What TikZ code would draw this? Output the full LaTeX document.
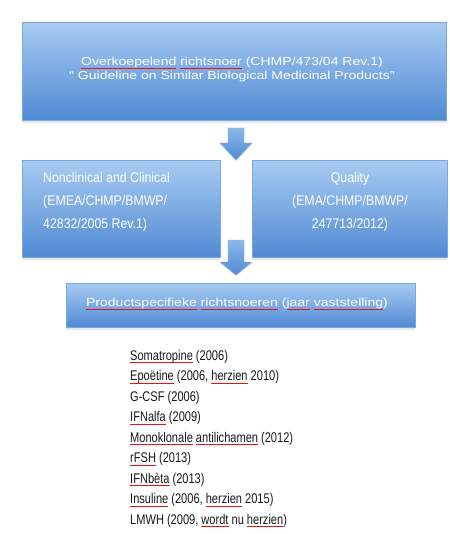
\documentclass[tikz,border=0pt]{standalone}
\usepackage{fontspec}
\setmainfont{Liberation Sans}
\newfontfamily\topfont[FakeStretch=1.22]{Liberation Sans}
\newfontfamily\midfont[FakeStretch=0.88]{Liberation Sans}
\newfontfamily\listfont[FakeStretch=0.79]{Liberation Sans}
\usetikzlibrary{shadows}
\definecolor{boxtop}{RGB}{168,203,242}
\definecolor{boxbot}{RGB}{80,138,212}
\definecolor{boxedge}{RGB}{120,168,224}
\definecolor{listtext}{RGB}{25,25,25}
\definecolor{spellred}{RGB}{230,20,20}
\newsavebox\spellbox
\newcommand\spell[1]{\leavevmode\sbox\spellbox{#1}\usebox\spellbox\llap{\textcolor{spellred}{\rule[-3pt]{\wd\spellbox}{1pt}}}}
\tikzset{
  bluebox/.style={draw=boxedge, line width=0.4pt, top color=boxtop, bottom color=boxbot,
    inner sep=0pt, anchor=north west,
    drop shadow={opacity=0.18, shadow xshift=0pt, shadow yshift=-2.5pt}},
  boxtext/.style={text=white, inner sep=0pt},
  arrowshape/.style={draw=boxedge, line width=0.3pt, top color=boxtop!70!boxbot, bottom color=boxbot,
    drop shadow={opacity=0.15, shadow xshift=0pt, shadow yshift=-1.5pt}},
}
\begin{document}
\begin{tikzpicture}[x=1pt,y=-1pt]
\useasboundingbox[fill=white] (0,0) rectangle (449,534);
% boxes
\node[bluebox, minimum width=424, minimum height=98] (top) at (22,22) {};
\node[bluebox, minimum width=198, minimum height=97] (left) at (22,160) {};
\node[bluebox, minimum width=195, minimum height=97] (right) at (252,160) {};
\node[bluebox, minimum width=349, minimum height=44] (bottom) at (66,283) {};
% arrows
\coordinate (a1) at (236,128);
\coordinate (a2) at (236,240);
\shade[arrowshape] ([xshift=-8]a1) -- ([xshift=8]a1) -- ([xshift=8,yshift=-15]a1) -- ([xshift=16,yshift=-15]a1)
  -- ([yshift=-32]a1) -- ([xshift=-16,yshift=-15]a1) -- ([xshift=-8,yshift=-15]a1) -- cycle;
\shade[arrowshape] ([xshift=-8]a2) -- ([xshift=8]a2) -- ([xshift=8,yshift=-22]a2) -- ([xshift=16,yshift=-22]a2)
  -- ([yshift=-35]a2) -- ([xshift=-16,yshift=-22]a2) -- ([xshift=-8,yshift=-22]a2) -- cycle;
% texts
\node[boxtext, anchor=north, align=center, font=\topfont\fontsize{11.5}{14}\selectfont] (toptext) at (232,57)
  {\spell{Overkoepelend} \spell{richtsnoer} (CHMP/473/04 Rev.1)\\
   “ Guideline on Similar Biological Medicinal Products”};
\node[boxtext, anchor=north west, align=left, font=\midfont\fontsize{14}{23}\selectfont] (lefttext) at (43,172)
  {Nonclinical and Clinical\\(EMEA/CHMP/BMWP/\\42832/2005 Rev.1)};
\node[boxtext, anchor=north, align=center, font=\midfont\fontsize{14}{23}\selectfont] (righttext) at (350,172)
  {Quality\\(EMA/CHMP/BMWP/\\247713/2012)};
\node[boxtext, anchor=center, font=\topfont\fontsize{11.5}{14}\selectfont] (bottomtext) at (237,304)
  {\spell{Productspecifieke} \spell{richtsnoeren} (\spell{jaar} \spell{vaststelling})};
\node[anchor=north west, inner sep=0pt, align=left, text=listtext, font=\listfont\fontsize{14}{20.5}\selectfont] (list) at (130,350)
  {\spell{Somatropine} (2006)\\
   \spell{Epoëtine} (2006, \spell{herzien} 2010)\\
   G-CSF (2006)\\
   \spell{IFNalfa} (2009)\\
   \spell{Monoklonale} \spell{antilichamen} (2012)\\
   \spell{rFSH} (2013)\\
   \spell{IFNbèta} (2013)\\
   \spell{Insuline} (2006, \spell{herzien} 2015)\\
   LMWH (2009, \spell{wordt} nu \spell{herzien})};
\end{tikzpicture}
\end{document}
